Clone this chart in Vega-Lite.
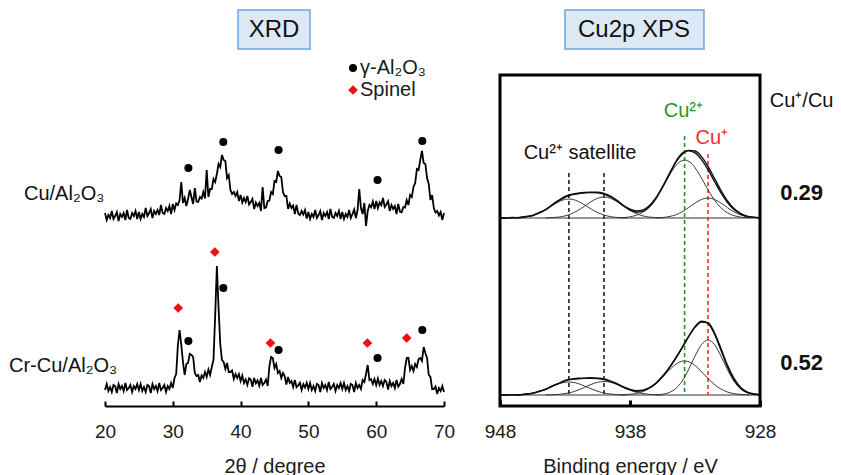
{
  "$schema": "https://vega.github.io/schema/vega-lite/v6.json",
  "background": "white",
  "padding": {"left": 8, "top": 9, "right": 0, "bottom": 0},
  "autosize": {"type": "pad"},
  "config": {
    "font": "Liberation Sans",
    "view": {"stroke": null},
    "text": {"font": "Liberation Sans"}
  },
  "spacing": 56,
  "bounds": "flush",
  "resolve": {
    "scale": {"x": "independent", "y": "independent", "color": "independent", "shape": "independent", "size": "independent"},
    "legend": {"color": "independent", "shape": "independent", "size": "independent"}
  },
  "datasets": {
    "xrd": [
      {"s":"Cu","t":20,"v":193},{"s":"Cu","t":20.25,"v":186},{"s":"Cu","t":20.5,"v":191},{"s":"Cu","t":20.75,"v":188},{"s":"Cu","t":21,"v":195},{"s":"Cu","t":21.25,"v":187},{"s":"Cu","t":21.5,"v":190},{"s":"Cu","t":21.75,"v":194},{"s":"Cu","t":22,"v":185},{"s":"Cu","t":22.25,"v":192},{"s":"Cu","t":22.5,"v":189},{"s":"Cu","t":22.75,"v":193},{"s":"Cu","t":23,"v":186},{"s":"Cu","t":23.25,"v":196},{"s":"Cu","t":23.5,"v":188},{"s":"Cu","t":23.75,"v":187},
      {"s":"Cu","t":24,"v":193},{"s":"Cu","t":24.25,"v":190},{"s":"Cu","t":24.5,"v":195},{"s":"Cu","t":24.75,"v":187},{"s":"Cu","t":25,"v":194},{"s":"Cu","t":25.25,"v":187},{"s":"Cu","t":25.5,"v":192},{"s":"Cu","t":25.75,"v":189},{"s":"Cu","t":26,"v":198},{"s":"Cu","t":26.25,"v":190},{"s":"Cu","t":26.5,"v":193},{"s":"Cu","t":26.75,"v":197},{"s":"Cu","t":27,"v":188},{"s":"Cu","t":27.25,"v":195},{"s":"Cu","t":27.5,"v":192},{"s":"Cu","t":27.75,"v":196},{"s":"Cu","t":28,"v":191},{"s":"Cu","t":28.25,"v":201},{"s":"Cu","t":28.5,"v":193},{"s":"Cu","t":28.75,"v":192},{"s":"Cu","t":29,"v":198},{"s":"Cu","t":29.25,"v":195},{"s":"Cu","t":29.5,"v":200},{"s":"Cu","t":29.75,"v":192},
      {"s":"Cu","t":30,"v":202},{"s":"Cu","t":30.25,"v":196},{"s":"Cu","t":30.5,"v":202.5},{"s":"Cu","t":30.75,"v":201},{"s":"Cu","t":31,"v":206},{"s":"Cu","t":31.25,"v":224},{"s":"Cu","t":31.5,"v":203},{"s":"Cu","t":31.75,"v":208},{"s":"Cu","t":32,"v":200},{"s":"Cu","t":32.25,"v":207},{"s":"Cu","t":32.5,"v":216},{"s":"Cu","t":32.75,"v":209},{"s":"Cu","t":33,"v":202},{"s":"Cu","t":33.25,"v":218},{"s":"Cu","t":33.5,"v":204.5},{"s":"Cu","t":33.75,"v":204},{"s":"Cu","t":34,"v":209},{"s":"Cu","t":34.25,"v":207.5},{"s":"Cu","t":34.5,"v":214},{"s":"Cu","t":34.75,"v":207.5},
      {"s":"Cu","t":35,"v":236},{"s":"Cu","t":35.25,"v":209},{"s":"Cu","t":35.5,"v":217},{"s":"Cu","t":35.75,"v":217},{"s":"Cu","t":36,"v":227},{"s":"Cu","t":36.25,"v":224},{"s":"Cu","t":36.5,"v":232},{"s":"Cu","t":36.75,"v":242},{"s":"Cu","t":37,"v":239},{"s":"Cu","t":37.25,"v":251},{"s":"Cu","t":37.5,"v":246},{"s":"Cu","t":37.75,"v":245},{"s":"Cu","t":38,"v":228},{"s":"Cu","t":38.25,"v":231},{"s":"Cu","t":38.5,"v":216},{"s":"Cu","t":38.75,"v":212},{"s":"Cu","t":39,"v":214},{"s":"Cu","t":39.25,"v":210},{"s":"Cu","t":39.5,"v":214},{"s":"Cu","t":39.75,"v":205},
      {"s":"Cu","t":40,"v":211},{"s":"Cu","t":40.25,"v":203.5},{"s":"Cu","t":40.5,"v":208},{"s":"Cu","t":40.75,"v":204},{"s":"Cu","t":41,"v":210},{"s":"Cu","t":41.25,"v":201.5},{"s":"Cu","t":41.5,"v":204},{"s":"Cu","t":41.75,"v":207},{"s":"Cu","t":42,"v":197},{"s":"Cu","t":42.25,"v":203.5},{"s":"Cu","t":42.5,"v":200},{"s":"Cu","t":42.75,"v":203},{"s":"Cu","t":43,"v":195},{"s":"Cu","t":43.25,"v":219},{"s":"Cu","t":43.5,"v":198},{"s":"Cu","t":43.75,"v":198.5},{"s":"Cu","t":44,"v":205},{"s":"Cu","t":44.25,"v":205.5},{"s":"Cu","t":44.5,"v":214},{"s":"Cu","t":44.75,"v":212},
      {"s":"Cu","t":45,"v":225},{"s":"Cu","t":45.25,"v":224},{"s":"Cu","t":45.5,"v":235},{"s":"Cu","t":45.75,"v":230},{"s":"Cu","t":46,"v":229},{"s":"Cu","t":46.25,"v":214},{"s":"Cu","t":46.5,"v":210},{"s":"Cu","t":46.75,"v":210},{"s":"Cu","t":47,"v":197},{"s":"Cu","t":47.25,"v":202.5},{"s":"Cu","t":47.5,"v":198},{"s":"Cu","t":47.75,"v":200.5},{"s":"Cu","t":48,"v":192},{"s":"Cu","t":48.25,"v":201},{"s":"Cu","t":48.5,"v":192.5},{"s":"Cu","t":48.75,"v":191},{"s":"Cu","t":49,"v":195},{"s":"Cu","t":49.25,"v":191.5},{"s":"Cu","t":49.5,"v":196},{"s":"Cu","t":49.75,"v":187.5},
      {"s":"Cu","t":50,"v":194},{"s":"Cu","t":50.25,"v":187},{"s":"Cu","t":50.5,"v":192},{"s":"Cu","t":50.75,"v":189},{"s":"Cu","t":51,"v":196},{"s":"Cu","t":51.25,"v":188},{"s":"Cu","t":51.5,"v":191},{"s":"Cu","t":51.75,"v":195},{"s":"Cu","t":52,"v":186},{"s":"Cu","t":52.25,"v":193},{"s":"Cu","t":52.5,"v":190},{"s":"Cu","t":52.75,"v":194},{"s":"Cu","t":53,"v":187},{"s":"Cu","t":53.25,"v":197},{"s":"Cu","t":53.5,"v":189},{"s":"Cu","t":53.75,"v":188},{"s":"Cu","t":54,"v":193},{"s":"Cu","t":54.25,"v":190},{"s":"Cu","t":54.5,"v":195},{"s":"Cu","t":54.75,"v":187},
      {"s":"Cu","t":55,"v":194},{"s":"Cu","t":55.25,"v":187},{"s":"Cu","t":55.5,"v":192},{"s":"Cu","t":55.75,"v":189},{"s":"Cu","t":56,"v":196},{"s":"Cu","t":56.25,"v":188},{"s":"Cu","t":56.5,"v":192},{"s":"Cu","t":56.75,"v":196.5},{"s":"Cu","t":57,"v":188},{"s":"Cu","t":57.25,"v":195.75},{"s":"Cu","t":57.5,"v":217},{"s":"Cu","t":57.75,"v":198},{"s":"Cu","t":58,"v":192},{"s":"Cu","t":58.25,"v":203},{"s":"Cu","t":58.5,"v":180},{"s":"Cu","t":58.75,"v":195},{"s":"Cu","t":59,"v":201},{"s":"Cu","t":59.25,"v":198.75},{"s":"Cu","t":59.5,"v":204.5},{"s":"Cu","t":59.75,"v":197},
      {"s":"Cu","t":60,"v":205},{"s":"Cu","t":60.25,"v":198},{"s":"Cu","t":60.5,"v":203.5},{"s":"Cu","t":60.75,"v":200.75},{"s":"Cu","t":61,"v":208},{"s":"Cu","t":61.25,"v":199},{"s":"Cu","t":61.5,"v":201.5},{"s":"Cu","t":61.75,"v":204.75},{"s":"Cu","t":62,"v":195},{"s":"Cu","t":62.25,"v":201},{"s":"Cu","t":62.5,"v":197},{"s":"Cu","t":62.75,"v":200},{"s":"Cu","t":63,"v":192},{"s":"Cu","t":63.25,"v":202},{"s":"Cu","t":63.5,"v":194.5},{"s":"Cu","t":63.75,"v":193.75},{"s":"Cu","t":64,"v":199},{"s":"Cu","t":64.25,"v":198.5},{"s":"Cu","t":64.5,"v":206},{"s":"Cu","t":64.75,"v":201},
      {"s":"Cu","t":65,"v":211},{"s":"Cu","t":65.25,"v":209},{"s":"Cu","t":65.5,"v":219},{"s":"Cu","t":65.75,"v":223},{"s":"Cu","t":66,"v":237},{"s":"Cu","t":66.25,"v":236},{"s":"Cu","t":66.5,"v":246},{"s":"Cu","t":66.75,"v":255},{"s":"Cu","t":67,"v":243},{"s":"Cu","t":67.25,"v":242},{"s":"Cu","t":67.5,"v":228},{"s":"Cu","t":67.75,"v":222},{"s":"Cu","t":68,"v":206},{"s":"Cu","t":68.25,"v":211},{"s":"Cu","t":68.5,"v":198},{"s":"Cu","t":68.75,"v":193.5},{"s":"Cu","t":69,"v":195},{"s":"Cu","t":69.25,"v":190.5},{"s":"Cu","t":69.5,"v":194},{"s":"Cu","t":69.75,"v":186},{"s":"Cu","t":70,"v":193},

      {"s":"CrCu","t":20,"v":16},{"s":"CrCu","t":20.25,"v":22},{"s":"CrCu","t":20.5,"v":15},{"s":"CrCu","t":20.75,"v":19},{"s":"CrCu","t":21,"v":14},{"s":"CrCu","t":21.25,"v":21},{"s":"CrCu","t":21.5,"v":20},{"s":"CrCu","t":21.75,"v":13},{"s":"CrCu","t":22,"v":22},{"s":"CrCu","t":22.25,"v":17},{"s":"CrCu","t":22.5,"v":20},{"s":"CrCu","t":22.75,"v":15},{"s":"CrCu","t":23,"v":23},{"s":"CrCu","t":23.25,"v":16},{"s":"CrCu","t":23.5,"v":18},{"s":"CrCu","t":23.75,"v":21},{"s":"CrCu","t":24,"v":14},{"s":"CrCu","t":24.25,"v":20},{"s":"CrCu","t":24.5,"v":17},{"s":"CrCu","t":24.75,"v":22},
      {"s":"CrCu","t":25,"v":16},{"s":"CrCu","t":25.25,"v":22},{"s":"CrCu","t":25.5,"v":15},{"s":"CrCu","t":25.75,"v":19},{"s":"CrCu","t":26,"v":14},{"s":"CrCu","t":26.25,"v":21},{"s":"CrCu","t":26.5,"v":20},{"s":"CrCu","t":26.75,"v":13},{"s":"CrCu","t":27,"v":22},{"s":"CrCu","t":27.25,"v":17},{"s":"CrCu","t":27.5,"v":20},{"s":"CrCu","t":27.75,"v":15},{"s":"CrCu","t":28,"v":23},{"s":"CrCu","t":28.25,"v":16},{"s":"CrCu","t":28.5,"v":18},{"s":"CrCu","t":28.75,"v":21},{"s":"CrCu","t":29,"v":14},{"s":"CrCu","t":29.25,"v":20},{"s":"CrCu","t":29.5,"v":17},{"s":"CrCu","t":29.75,"v":23},
      {"s":"CrCu","t":30,"v":18},{"s":"CrCu","t":30.25,"v":28},{"s":"CrCu","t":30.5,"v":32},{"s":"CrCu","t":30.75,"v":61},{"s":"CrCu","t":31,"v":76},{"s":"CrCu","t":31.25,"v":61},{"s":"CrCu","t":31.5,"v":44},{"s":"CrCu","t":31.75,"v":31},{"s":"CrCu","t":32,"v":42},{"s":"CrCu","t":32.25,"v":43},{"s":"CrCu","t":32.5,"v":52},{"s":"CrCu","t":32.75,"v":51},{"s":"CrCu","t":33,"v":49},{"s":"CrCu","t":33.25,"v":33},{"s":"CrCu","t":33.5,"v":30},{"s":"CrCu","t":33.75,"v":31},{"s":"CrCu","t":34,"v":24},{"s":"CrCu","t":34.25,"v":30.5},{"s":"CrCu","t":34.5,"v":28},{"s":"CrCu","t":34.75,"v":34},
      {"s":"CrCu","t":35,"v":29},{"s":"CrCu","t":35.25,"v":36.5},{"s":"CrCu","t":35.5,"v":31},{"s":"CrCu","t":35.75,"v":39},{"s":"CrCu","t":36,"v":46},{"s":"CrCu","t":36.25,"v":90},{"s":"CrCu","t":36.5,"v":140},{"s":"CrCu","t":36.75,"v":98},{"s":"CrCu","t":37,"v":62},{"s":"CrCu","t":37.25,"v":46},{"s":"CrCu","t":37.5,"v":44},{"s":"CrCu","t":37.75,"v":37},{"s":"CrCu","t":38,"v":43},{"s":"CrCu","t":38.25,"v":34},{"s":"CrCu","t":38.5,"v":34},{"s":"CrCu","t":38.75,"v":35.5},{"s":"CrCu","t":39,"v":27},{"s":"CrCu","t":39.25,"v":32},{"s":"CrCu","t":39.5,"v":28},{"s":"CrCu","t":39.75,"v":32},
      {"s":"CrCu","t":40,"v":25},{"s":"CrCu","t":40.25,"v":30.5},{"s":"CrCu","t":40.5,"v":23},{"s":"CrCu","t":40.75,"v":26.5},{"s":"CrCu","t":41,"v":21},{"s":"CrCu","t":41.25,"v":27.75},{"s":"CrCu","t":41.5,"v":26.5},{"s":"CrCu","t":41.75,"v":19.25},{"s":"CrCu","t":42,"v":28},{"s":"CrCu","t":42.25,"v":22.75},{"s":"CrCu","t":42.5,"v":25.5},{"s":"CrCu","t":42.75,"v":20.25},{"s":"CrCu","t":43,"v":28},{"s":"CrCu","t":43.25,"v":21},{"s":"CrCu","t":43.5,"v":23},{"s":"CrCu","t":43.75,"v":26.5},{"s":"CrCu","t":44,"v":20},{"s":"CrCu","t":44.25,"v":40},{"s":"CrCu","t":44.5,"v":49},{"s":"CrCu","t":44.75,"v":48},
      {"s":"CrCu","t":45,"v":38},{"s":"CrCu","t":45.25,"v":42},{"s":"CrCu","t":45.5,"v":33},{"s":"CrCu","t":45.75,"v":35},{"s":"CrCu","t":46,"v":28},{"s":"CrCu","t":46.25,"v":33},{"s":"CrCu","t":46.5,"v":30},{"s":"CrCu","t":46.75,"v":21.5},{"s":"CrCu","t":47,"v":29},{"s":"CrCu","t":47.25,"v":23},{"s":"CrCu","t":47.5,"v":25},{"s":"CrCu","t":47.75,"v":19},{"s":"CrCu","t":48,"v":26},{"s":"CrCu","t":48.25,"v":18.75},{"s":"CrCu","t":48.5,"v":20.5},{"s":"CrCu","t":48.75,"v":23.25},{"s":"CrCu","t":49,"v":16},{"s":"CrCu","t":49.25,"v":21.75},{"s":"CrCu","t":49.5,"v":18.5},{"s":"CrCu","t":49.75,"v":23.25},
      {"s":"CrCu","t":50,"v":17},{"s":"CrCu","t":50.25,"v":23},{"s":"CrCu","t":50.5,"v":16},{"s":"CrCu","t":50.75,"v":20},{"s":"CrCu","t":51,"v":15},{"s":"CrCu","t":51.25,"v":22},{"s":"CrCu","t":51.5,"v":21},{"s":"CrCu","t":51.75,"v":14},{"s":"CrCu","t":52,"v":23},{"s":"CrCu","t":52.25,"v":18},{"s":"CrCu","t":52.5,"v":21},{"s":"CrCu","t":52.75,"v":16},{"s":"CrCu","t":53,"v":24},{"s":"CrCu","t":53.25,"v":17},{"s":"CrCu","t":53.5,"v":19},{"s":"CrCu","t":53.75,"v":22},{"s":"CrCu","t":54,"v":15},{"s":"CrCu","t":54.25,"v":21},{"s":"CrCu","t":54.5,"v":18},{"s":"CrCu","t":54.75,"v":23},
      {"s":"CrCu","t":55,"v":17},{"s":"CrCu","t":55.25,"v":23},{"s":"CrCu","t":55.5,"v":16},{"s":"CrCu","t":55.75,"v":20},{"s":"CrCu","t":56,"v":15},{"s":"CrCu","t":56.25,"v":22},{"s":"CrCu","t":56.5,"v":21},{"s":"CrCu","t":56.75,"v":14},{"s":"CrCu","t":57,"v":23},{"s":"CrCu","t":57.25,"v":18},{"s":"CrCu","t":57.5,"v":21},{"s":"CrCu","t":57.75,"v":17},{"s":"CrCu","t":58,"v":26},{"s":"CrCu","t":58.25,"v":24},{"s":"CrCu","t":58.5,"v":32},{"s":"CrCu","t":58.75,"v":41},{"s":"CrCu","t":59,"v":26},{"s":"CrCu","t":59.25,"v":27},{"s":"CrCu","t":59.5,"v":22},{"s":"CrCu","t":59.75,"v":27},
      {"s":"CrCu","t":60,"v":21},{"s":"CrCu","t":60.25,"v":27.5},{"s":"CrCu","t":60.5,"v":21},{"s":"CrCu","t":60.75,"v":25},{"s":"CrCu","t":61,"v":20},{"s":"CrCu","t":61.25,"v":26},{"s":"CrCu","t":61.5,"v":24},{"s":"CrCu","t":61.75,"v":16.5},{"s":"CrCu","t":62,"v":25},{"s":"CrCu","t":62.25,"v":20},{"s":"CrCu","t":62.5,"v":23},{"s":"CrCu","t":62.75,"v":18},{"s":"CrCu","t":63,"v":26},{"s":"CrCu","t":63.25,"v":19.5},{"s":"CrCu","t":63.5,"v":22},{"s":"CrCu","t":63.75,"v":27},{"s":"CrCu","t":64,"v":22},{"s":"CrCu","t":64.25,"v":38},{"s":"CrCu","t":64.5,"v":48},{"s":"CrCu","t":64.75,"v":48},
      {"s":"CrCu","t":65,"v":36},{"s":"CrCu","t":65.25,"v":40},{"s":"CrCu","t":65.5,"v":35},{"s":"CrCu","t":65.75,"v":42},{"s":"CrCu","t":66,"v":39},{"s":"CrCu","t":66.25,"v":47},{"s":"CrCu","t":66.5,"v":48},{"s":"CrCu","t":66.75,"v":45},{"s":"CrCu","t":67,"v":59},{"s":"CrCu","t":67.25,"v":53},{"s":"CrCu","t":67.5,"v":48},{"s":"CrCu","t":67.75,"v":31},{"s":"CrCu","t":68,"v":29},{"s":"CrCu","t":68.25,"v":17},{"s":"CrCu","t":68.5,"v":17},{"s":"CrCu","t":68.75,"v":19.5},{"s":"CrCu","t":69,"v":12},{"s":"CrCu","t":69.25,"v":18},{"s":"CrCu","t":69.5,"v":15},{"s":"CrCu","t":69.75,"v":20},{"s":"CrCu","t":70,"v":14}
    ],
    "markers": [
      {"phase":"γ-Al₂O₃","t":32.3,"v":238},{"phase":"γ-Al₂O₃","t":37.45,"v":264},{"phase":"γ-Al₂O₃","t":45.6,"v":256},{"phase":"γ-Al₂O₃","t":60.2,"v":226},{"phase":"γ-Al₂O₃","t":66.8,"v":265},
      {"phase":"γ-Al₂O₃","t":32.3,"v":65},{"phase":"γ-Al₂O₃","t":37.45,"v":118},{"phase":"γ-Al₂O₃","t":45.6,"v":56},{"phase":"γ-Al₂O₃","t":60.2,"v":48},{"phase":"γ-Al₂O₃","t":66.8,"v":76},
      {"phase":"Spinel","t":30.8,"v":98},{"phase":"Spinel","t":36.2,"v":154},{"phase":"Spinel","t":44.4,"v":63},{"phase":"Spinel","t":58.7,"v":63},{"phase":"Spinel","t":64.5,"v":68}
    ],
    "comps": [
      {"id":"U-S1","E":947.2,"v":188.1},{"id":"U-S1","E":946.7,"v":188.3},{"id":"U-S1","E":946.2,"v":188.8},{"id":"U-S1","E":945.7,"v":189.9},{"id":"U-S1","E":945.2,"v":191.9},{"id":"U-S1","E":944.7,"v":194.8},{"id":"U-S1","E":944.2,"v":198.7},{"id":"U-S1","E":943.7,"v":202.7},{"id":"U-S1","E":943.2,"v":205.8},{"id":"U-S1","E":942.7,"v":207.0},{"id":"U-S1","E":942.2,"v":205.8},{"id":"U-S1","E":941.7,"v":202.7},{"id":"U-S1","E":941.2,"v":198.7},{"id":"U-S1","E":940.7,"v":194.8},{"id":"U-S1","E":940.2,"v":191.9},{"id":"U-S1","E":939.7,"v":189.9},{"id":"U-S1","E":939.2,"v":188.8},{"id":"U-S1","E":938.7,"v":188.3},{"id":"U-S1","E":938.2,"v":188.1},
      {"id":"U-S2","E":944.5,"v":188.1},{"id":"U-S2","E":944,"v":188.4},{"id":"U-S2","E":943.5,"v":188.9},{"id":"U-S2","E":943,"v":190.1},{"id":"U-S2","E":942.5,"v":192.3},{"id":"U-S2","E":942,"v":195.6},{"id":"U-S2","E":941.5,"v":199.8},{"id":"U-S2","E":941,"v":204.3},{"id":"U-S2","E":940.5,"v":207.7},{"id":"U-S2","E":940,"v":209.0},{"id":"U-S2","E":939.5,"v":207.7},{"id":"U-S2","E":939,"v":204.3},{"id":"U-S2","E":938.5,"v":199.8},{"id":"U-S2","E":938,"v":195.6},{"id":"U-S2","E":937.5,"v":192.3},{"id":"U-S2","E":937,"v":190.1},{"id":"U-S2","E":936.5,"v":188.9},{"id":"U-S2","E":936,"v":188.4},{"id":"U-S2","E":935.5,"v":188.1},
      {"id":"U-M2","E":938.8,"v":188.2},{"id":"U-M2","E":938.3,"v":188.6},{"id":"U-M2","E":937.8,"v":189.7},{"id":"U-M2","E":937.3,"v":191.8},{"id":"U-M2","E":936.8,"v":195.8},{"id":"U-M2","E":936.3,"v":202.4},{"id":"U-M2","E":935.8,"v":211.8},{"id":"U-M2","E":935.3,"v":223.2},{"id":"U-M2","E":934.8,"v":234.5},{"id":"U-M2","E":934.3,"v":242.9},{"id":"U-M2","E":933.8,"v":246.0},{"id":"U-M2","E":933.3,"v":242.9},{"id":"U-M2","E":932.8,"v":234.5},{"id":"U-M2","E":932.3,"v":223.2},{"id":"U-M2","E":931.8,"v":211.8},{"id":"U-M2","E":931.3,"v":202.4},{"id":"U-M2","E":930.8,"v":195.8},{"id":"U-M2","E":930.3,"v":191.8},{"id":"U-M2","E":929.8,"v":189.7},{"id":"U-M2","E":929.3,"v":188.6},{"id":"U-M2","E":928.8,"v":188.2},
      {"id":"U-M1","E":936,"v":188.2},{"id":"U-M1","E":935.5,"v":188.5},{"id":"U-M1","E":935,"v":189.4},{"id":"U-M1","E":934.5,"v":191.1},{"id":"U-M1","E":934,"v":194.1},{"id":"U-M1","E":933.5,"v":198.3},{"id":"U-M1","E":933,"v":202.9},{"id":"U-M1","E":932.5,"v":206.6},{"id":"U-M1","E":932,"v":208.0},{"id":"U-M1","E":931.5,"v":206.6},{"id":"U-M1","E":931,"v":202.9},{"id":"U-M1","E":930.5,"v":198.3},{"id":"U-M1","E":930,"v":194.1},{"id":"U-M1","E":929.5,"v":191.1},{"id":"U-M1","E":929,"v":189.4},{"id":"U-M1","E":928.5,"v":188.5},{"id":"U-M1","E":928,"v":188.2},
      {"id":"L-S1","E":947.2,"v":11.1},{"id":"L-S1","E":946.7,"v":11.2},{"id":"L-S1","E":946.2,"v":11.6},{"id":"L-S1","E":945.7,"v":12.3},{"id":"L-S1","E":945.2,"v":13.6},{"id":"L-S1","E":944.7,"v":15.7},{"id":"L-S1","E":944.2,"v":18.3},{"id":"L-S1","E":943.7,"v":21.1},{"id":"L-S1","E":943.2,"v":23.2},{"id":"L-S1","E":942.7,"v":24.0},{"id":"L-S1","E":942.2,"v":23.2},{"id":"L-S1","E":941.7,"v":21.1},{"id":"L-S1","E":941.2,"v":18.3},{"id":"L-S1","E":940.7,"v":15.7},{"id":"L-S1","E":940.2,"v":13.6},{"id":"L-S1","E":939.7,"v":12.3},{"id":"L-S1","E":939.2,"v":11.6},{"id":"L-S1","E":938.7,"v":11.2},{"id":"L-S1","E":938.2,"v":11.1},
      {"id":"L-S2","E":944.5,"v":11.1},{"id":"L-S2","E":944,"v":11.2},{"id":"L-S2","E":943.5,"v":11.6},{"id":"L-S2","E":943,"v":12.4},{"id":"L-S2","E":942.5,"v":13.7},{"id":"L-S2","E":942,"v":15.9},{"id":"L-S2","E":941.5,"v":18.6},{"id":"L-S2","E":941,"v":21.5},{"id":"L-S2","E":940.5,"v":23.7},{"id":"L-S2","E":940,"v":24.5},{"id":"L-S2","E":939.5,"v":23.7},{"id":"L-S2","E":939,"v":21.5},{"id":"L-S2","E":938.5,"v":18.6},{"id":"L-S2","E":938,"v":15.9},{"id":"L-S2","E":937.5,"v":13.7},{"id":"L-S2","E":937,"v":12.4},{"id":"L-S2","E":936.5,"v":11.6},{"id":"L-S2","E":936,"v":11.2},{"id":"L-S2","E":935.5,"v":11.1},
      {"id":"L-M2","E":938.8,"v":11.1},{"id":"L-M2","E":938.3,"v":11.4},{"id":"L-M2","E":937.8,"v":12.0},{"id":"L-M2","E":937.3,"v":13.2},{"id":"L-M2","E":936.8,"v":15.6},{"id":"L-M2","E":936.3,"v":19.5},{"id":"L-M2","E":935.8,"v":25.0},{"id":"L-M2","E":935.3,"v":31.6},{"id":"L-M2","E":934.8,"v":38.2},{"id":"L-M2","E":934.3,"v":43.2},{"id":"L-M2","E":933.8,"v":45.0},{"id":"L-M2","E":933.3,"v":43.2},{"id":"L-M2","E":932.8,"v":38.2},{"id":"L-M2","E":932.3,"v":31.6},{"id":"L-M2","E":931.8,"v":25.0},{"id":"L-M2","E":931.3,"v":19.5},{"id":"L-M2","E":930.8,"v":15.6},{"id":"L-M2","E":930.3,"v":13.2},{"id":"L-M2","E":929.8,"v":12.0},{"id":"L-M2","E":929.3,"v":11.4},{"id":"L-M2","E":928.8,"v":11.1},
      {"id":"L-M1","E":936,"v":11.2},{"id":"L-M1","E":935.5,"v":11.8},{"id":"L-M1","E":935,"v":13.4},{"id":"L-M1","E":934.5,"v":17.3},{"id":"L-M1","E":934,"v":24.7},{"id":"L-M1","E":933.5,"v":36.2},{"id":"L-M1","E":933,"v":49.9},{"id":"L-M1","E":932.5,"v":61.4},{"id":"L-M1","E":932,"v":66.0},{"id":"L-M1","E":931.5,"v":61.4},{"id":"L-M1","E":931,"v":49.9},{"id":"L-M1","E":930.5,"v":36.2},{"id":"L-M1","E":930,"v":24.7},{"id":"L-M1","E":929.5,"v":17.3},{"id":"L-M1","E":929,"v":13.4},{"id":"L-M1","E":928.5,"v":11.8},{"id":"L-M1","E":928,"v":11.2}
    ],
    "env": [
      {"id":"U-fit","E":948,"v":188.0},{"id":"U-fit","E":947.5,"v":188.1},{"id":"U-fit","E":947,"v":188.2},{"id":"U-fit","E":946.5,"v":188.5},{"id":"U-fit","E":946,"v":189.2},{"id":"U-fit","E":945.5,"v":190.6},{"id":"U-fit","E":945,"v":193.0},{"id":"U-fit","E":944.5,"v":196.4},{"id":"U-fit","E":944,"v":200.7},{"id":"U-fit","E":943.5,"v":205.1},{"id":"U-fit","E":943,"v":208.7},{"id":"U-fit","E":942.7,"v":210.3},{"id":"U-fit","E":942.5,"v":211.1},{"id":"U-fit","E":942,"v":212.3},{"id":"U-fit","E":941.5,"v":213.0},{"id":"U-fit","E":941,"v":213.4},{"id":"U-fit","E":940.5,"v":213.2},{"id":"U-fit","E":940,"v":212.0},{"id":"U-fit","E":939.5,"v":209.1},{"id":"U-fit","E":939,"v":205.0},{"id":"U-fit","E":938.5,"v":200.5},{"id":"U-fit","E":938,"v":196.8},{"id":"U-fit","E":937.5,"v":195.0},{"id":"U-fit","E":937,"v":196.1},{"id":"U-fit","E":936.5,"v":200.5},{"id":"U-fit","E":936,"v":208.3},{"id":"U-fit","E":935.5,"v":219.2},{"id":"U-fit","E":935,"v":231.6},{"id":"U-fit","E":934.5,"v":243.2},{"id":"U-fit","E":934,"v":251.6},{"id":"U-fit","E":933.8,"v":253.7},{"id":"U-fit","E":933.5,"v":255.1},{"id":"U-fit","E":933,"v":253.2},{"id":"U-fit","E":932.5,"v":246.4},{"id":"U-fit","E":932,"v":236.3},{"id":"U-fit","E":931.5,"v":224.5},{"id":"U-fit","E":931,"v":213.0},{"id":"U-fit","E":930.5,"v":203.4},{"id":"U-fit","E":930,"v":196.5},{"id":"U-fit","E":929.5,"v":192.1},{"id":"U-fit","E":929,"v":189.8},{"id":"U-fit","E":928.5,"v":188.6},{"id":"U-fit","E":928,"v":188.2},
      {"id":"U-raw","E":948,"v":188.3},{"id":"U-raw","E":947.5,"v":187.8},{"id":"U-raw","E":947,"v":188.6},{"id":"U-raw","E":946.5,"v":188.2},{"id":"U-raw","E":946,"v":189.6},{"id":"U-raw","E":945.5,"v":190.3},{"id":"U-raw","E":945,"v":193.4},{"id":"U-raw","E":944.5,"v":196.0},{"id":"U-raw","E":944,"v":201.2},{"id":"U-raw","E":943.5,"v":205.6},{"id":"U-raw","E":943,"v":209.5},{"id":"U-raw","E":942.7,"v":211.0},{"id":"U-raw","E":942.5,"v":211.6},{"id":"U-raw","E":942,"v":212.8},{"id":"U-raw","E":941.5,"v":213.6},{"id":"U-raw","E":941,"v":213.8},{"id":"U-raw","E":940.5,"v":213.9},{"id":"U-raw","E":940,"v":212.6},{"id":"U-raw","E":939.5,"v":209.8},{"id":"U-raw","E":939,"v":205.6},{"id":"U-raw","E":938.5,"v":200.2},{"id":"U-raw","E":938,"v":196.0},{"id":"U-raw","E":937.5,"v":193.8},{"id":"U-raw","E":937,"v":194.6},{"id":"U-raw","E":936.5,"v":199.2},{"id":"U-raw","E":936,"v":207.4},{"id":"U-raw","E":935.5,"v":218.6},{"id":"U-raw","E":935,"v":231.0},{"id":"U-raw","E":934.5,"v":243.8},{"id":"U-raw","E":934,"v":252.6},{"id":"U-raw","E":933.8,"v":254.4},{"id":"U-raw","E":933.5,"v":255.6},{"id":"U-raw","E":933,"v":255.0},{"id":"U-raw","E":932.5,"v":249.4},{"id":"U-raw","E":932,"v":239.6},{"id":"U-raw","E":931.5,"v":227.6},{"id":"U-raw","E":931,"v":215.4},{"id":"U-raw","E":930.5,"v":205.0},{"id":"U-raw","E":930,"v":197.4},{"id":"U-raw","E":929.5,"v":192.6},{"id":"U-raw","E":929,"v":189.6},{"id":"U-raw","E":928.5,"v":188.9},{"id":"U-raw","E":928,"v":188.4},
      {"id":"L-fit","E":948,"v":11.0},{"id":"L-fit","E":947.5,"v":11.0},{"id":"L-fit","E":947,"v":11.1},{"id":"L-fit","E":946.5,"v":11.3},{"id":"L-fit","E":946,"v":11.8},{"id":"L-fit","E":945.5,"v":12.8},{"id":"L-fit","E":945,"v":14.4},{"id":"L-fit","E":944.5,"v":16.8},{"id":"L-fit","E":944,"v":19.7},{"id":"L-fit","E":943.5,"v":22.6},{"id":"L-fit","E":943,"v":25.1},{"id":"L-fit","E":942.7,"v":26.1},{"id":"L-fit","E":942.5,"v":26.6},{"id":"L-fit","E":942,"v":27.3},{"id":"L-fit","E":941.5,"v":27.6},{"id":"L-fit","E":941,"v":27.7},{"id":"L-fit","E":940.5,"v":27.4},{"id":"L-fit","E":940,"v":26.5},{"id":"L-fit","E":939.5,"v":24.6},{"id":"L-fit","E":939,"v":21.9},{"id":"L-fit","E":938.5,"v":19.0},{"id":"L-fit","E":938,"v":16.6},{"id":"L-fit","E":937.5,"v":15.4},{"id":"L-fit","E":937,"v":15.9},{"id":"L-fit","E":936.5,"v":18.4},{"id":"L-fit","E":936,"v":23.0},{"id":"L-fit","E":935.5,"v":29.7},{"id":"L-fit","E":935,"v":38.1},{"id":"L-fit","E":934.5,"v":47.8},{"id":"L-fit","E":934,"v":58.4},{"id":"L-fit","E":933.8,"v":62.9},{"id":"L-fit","E":933.5,"v":69.5},{"id":"L-fit","E":933,"v":79.4},{"id":"L-fit","E":932.5,"v":84.8},{"id":"L-fit","E":932,"v":82.6},{"id":"L-fit","E":931.5,"v":71.9},{"id":"L-fit","E":931,"v":55.8},{"id":"L-fit","E":930.5,"v":39.2},{"id":"L-fit","E":930,"v":26.1},{"id":"L-fit","E":929.5,"v":17.8},{"id":"L-fit","E":929,"v":13.6},{"id":"L-fit","E":928.5,"v":11.8},{"id":"L-fit","E":928,"v":11.2},
      {"id":"L-raw","E":948,"v":11.3},{"id":"L-raw","E":947.5,"v":10.8},{"id":"L-raw","E":947,"v":11.4},{"id":"L-raw","E":946.5,"v":11.0},{"id":"L-raw","E":946,"v":12.1},{"id":"L-raw","E":945.5,"v":12.6},{"id":"L-raw","E":945,"v":14.8},{"id":"L-raw","E":944.5,"v":16.5},{"id":"L-raw","E":944,"v":20.1},{"id":"L-raw","E":943.5,"v":22.3},{"id":"L-raw","E":943,"v":25.6},{"id":"L-raw","E":942.7,"v":26.6},{"id":"L-raw","E":942.5,"v":26.9},{"id":"L-raw","E":942,"v":27.8},{"id":"L-raw","E":941.5,"v":27.9},{"id":"L-raw","E":941,"v":28.2},{"id":"L-raw","E":940.5,"v":27.8},{"id":"L-raw","E":940,"v":27.0},{"id":"L-raw","E":939.5,"v":24.9},{"id":"L-raw","E":939,"v":22.4},{"id":"L-raw","E":938.5,"v":18.7},{"id":"L-raw","E":938,"v":16.2},{"id":"L-raw","E":937.5,"v":14.8},{"id":"L-raw","E":937,"v":15.4},{"id":"L-raw","E":936.5,"v":18.0},{"id":"L-raw","E":936,"v":22.6},{"id":"L-raw","E":935.5,"v":29.2},{"id":"L-raw","E":935,"v":37.6},{"id":"L-raw","E":934.5,"v":47.2},{"id":"L-raw","E":934,"v":58.0},{"id":"L-raw","E":933.8,"v":62.4},{"id":"L-raw","E":933.5,"v":69.0},{"id":"L-raw","E":933,"v":78.6},{"id":"L-raw","E":932.5,"v":84.0},{"id":"L-raw","E":932,"v":83.4},{"id":"L-raw","E":931.5,"v":73.2},{"id":"L-raw","E":931,"v":57.4},{"id":"L-raw","E":930.5,"v":40.6},{"id":"L-raw","E":930,"v":27.6},{"id":"L-raw","E":929.5,"v":18.8},{"id":"L-raw","E":929,"v":14.2},{"id":"L-raw","E":928.5,"v":12.2},{"id":"L-raw","E":928,"v":11.4}
    ]
  },
  "hconcat": [
    {
      "width": 339,
      "height": 396,
      "encoding": {
        "x": {"field": "t", "type": "quantitative",
          "scale": {"domain": [20, 70], "nice": false, "zero": false},
          "axis": {"title": "2θ / degree", "values": [20, 30, 40, 50, 60, 70], "format": "d", "grid": false, "labelFlush": false,
            "domainColor": "black", "domainWidth": 2, "tickColor": "black", "tickWidth": 2, "tickSize": -5,
            "labelFontSize": 19, "labelColor": "#1a1a1a", "labelPadding": 21, "labelFont": "Liberation Sans",
            "titleFontSize": 20, "titleFontWeight": "normal", "titleColor": "#1a1a1a", "titlePadding": 15, "titleFont": "Liberation Sans"}},
        "y": {"field": "v", "type": "quantitative", "scale": {"domain": [0, 396], "nice": false, "zero": false}, "axis": null}
      },
      "layer": [
        {
          "data": {"values": [{"t": 39.62, "t2": 50.24, "v": 357, "v2": 396}]},
          "mark": {"type": "rect", "fill": "#dde8f5", "stroke": "#6fa3dc", "strokeWidth": 1.5},
          "encoding": {"x2": {"field": "t2"}, "y2": {"field": "v2"}}
        },
        {
          "data": {"values": [{"label": "XRD", "t": 44.93, "v": 376.5}]},
          "mark": {"type": "text", "fontSize": 24, "color": "#111", "align": "center", "baseline": "middle"},
          "encoding": {"text": {"field": "label"}}
        },
        {
          "data": {"name": "xrd"},
          "mark": {"type": "line", "color": "black", "strokeWidth": 1.8},
          "encoding": {"detail": {"field": "s"}}
        },
        {
          "data": {"name": "markers"},
          "mark": {"type": "point", "filled": true, "opacity": 1},
          "encoding": {
            "size": {"field": "phase", "type": "nominal", "scale": {"domain": ["γ-Al₂O₃", "Spinel"], "range": [65, 95]}, "legend": null},
            "shape": {"field": "phase", "type": "nominal", "scale": {"domain": ["γ-Al₂O₃", "Spinel"], "range": ["circle", "diamond"]},
              "legend": {"orient": "none", "legendX": 238, "legendY": 48, "title": null, "labelFontSize": 20, "labelFont": "Liberation Sans", "labelColor": "#1a1a1a", "symbolSize": 65, "rowPadding": 2, "padding": 0, "labelOffset": -3, "symbolStrokeWidth": 0}},
            "color": {"field": "phase", "type": "nominal", "scale": {"domain": ["γ-Al₂O₃", "Spinel"], "range": ["#000000", "#ee1111"]},
              "legend": {"orient": "none", "legendX": 238, "legendY": 48, "title": null, "labelFontSize": 20, "labelFont": "Liberation Sans", "labelColor": "#1a1a1a", "symbolSize": 65, "rowPadding": 2, "padding": 0, "labelOffset": -3, "symbolStrokeWidth": 0}}
          }
        },
        {
          "data": {"values": [{"label": "Cu/Al₂O₃", "t": 8.05, "v": 212}, {"label": "Cr-Cu/Al₂O₃", "t": 5.84, "v": 40}]},
          "mark": {"type": "text", "fontSize": 20, "color": "#111", "align": "left", "baseline": "middle"},
          "encoding": {"text": {"field": "label"}}
        }
      ]
    },
    {
      "width": 260,
      "height": 396,
      "encoding": {
        "x": {"field": "E", "type": "quantitative",
          "scale": {"domain": [928, 948], "reverse": true, "nice": false, "zero": false},
          "axis": {"title": "Binding energy / eV", "values": [948, 938, 928], "format": "d", "grid": false, "labelFlush": false,
            "domain": false, "tickColor": "black", "tickWidth": 3, "tickSize": -6,
            "labelFontSize": 19, "labelColor": "#1a1a1a", "labelPadding": 22, "labelFont": "Liberation Sans",
            "titleFontSize": 20, "titleFontWeight": "normal", "titleColor": "#1a1a1a", "titlePadding": 15, "titleFont": "Liberation Sans"}},
        "y": {"field": "v", "type": "quantitative", "scale": {"domain": [0, 396], "nice": false, "zero": false}, "axis": null}
      },
      "layer": [
        {
          "data": {"values": [{"E": 943.0, "E2": 932.31, "v": 357, "v2": 396}]},
          "mark": {"type": "rect", "fill": "#dde8f5", "stroke": "#6fa3dc", "strokeWidth": 1.5},
          "encoding": {"x2": {"field": "E2"}, "y2": {"field": "v2"}}
        },
        {
          "data": {"values": [{"label": "Cu2p XPS", "E": 937.69, "v": 376.5}]},
          "mark": {"type": "text", "fontSize": 24, "color": "#111", "align": "center", "baseline": "middle"},
          "encoding": {"text": {"field": "label"}}
        },
        {
          "data": {"values": [{"E": 948, "E2": 928, "v": 188}, {"E": 948, "E2": 928, "v": 11}]},
          "mark": {"type": "rule", "color": "#333", "strokeWidth": 1.2},
          "encoding": {"x2": {"field": "E2"}}
        },
        {
          "data": {"values": [
            {"E": 942.7, "v": 233, "v2": 11, "kind": "sat"},
            {"E": 940.0, "v": 233, "v2": 11, "kind": "sat"},
            {"E": 933.8, "v": 270, "v2": 11, "kind": "Cu2+"},
            {"E": 932.0, "v": 252, "v2": 11, "kind": "Cu+"}]},
          "mark": {"type": "rule", "strokeWidth": 1.6, "strokeDash": [4, 3]},
          "encoding": {
            "y2": {"field": "v2"},
            "color": {"field": "kind", "type": "nominal", "scale": {"domain": ["sat", "Cu2+", "Cu+"], "range": ["#222222", "#1f9a1f", "#ff2a2a"]}, "legend": null}
          }
        },
        {
          "data": {"name": "comps"},
          "mark": {"type": "line", "color": "#3a3a3a", "strokeWidth": 1, "interpolate": "monotone"},
          "encoding": {"detail": {"field": "id"}}
        },
        {
          "data": {"name": "env"},
          "mark": {"type": "line", "color": "#111", "strokeWidth": 1.4, "interpolate": "monotone"},
          "encoding": {"detail": {"field": "id"}}
        },
        {
          "data": {"values": [{"E": 948, "E2": 928, "v": 0, "v2": 331}]},
          "mark": {"type": "rect", "filled": false, "fillOpacity": 0, "stroke": "black", "strokeWidth": 3},
          "encoding": {"x2": {"field": "E2"}, "y2": {"field": "v2"}}
        },
        {
          "data": {"values": [{"label": "Cu²⁺ satellite", "E": 941.85, "v": 253}, {"label": "Cu⁺/Cu", "E": 924.8, "v": 305}]},
          "mark": {"type": "text", "fontSize": 20, "color": "#111", "align": "center", "baseline": "middle"},
          "encoding": {"text": {"field": "label"}}
        },
        {
          "data": {"values": [{"label": "Cu²⁺", "E": 933.9, "v": 295}]},
          "mark": {"type": "text", "fontSize": 20, "color": "#1f9a1f", "align": "center", "baseline": "middle"},
          "encoding": {"text": {"field": "label"}}
        },
        {
          "data": {"values": [{"label": "Cu⁺", "E": 931.7, "v": 268}]},
          "mark": {"type": "text", "fontSize": 20, "color": "#ff2a2a", "align": "center", "baseline": "middle"},
          "encoding": {"text": {"field": "label"}}
        },
        {
          "data": {"values": [{"label": "0.29", "E": 924.8, "v": 213}, {"label": "0.52", "E": 924.8, "v": 43}]},
          "mark": {"type": "text", "fontSize": 22, "fontWeight": "bold", "color": "#111", "align": "center", "baseline": "middle"},
          "encoding": {"text": {"field": "label"}}
        }
      ]
    }
  ]
}
